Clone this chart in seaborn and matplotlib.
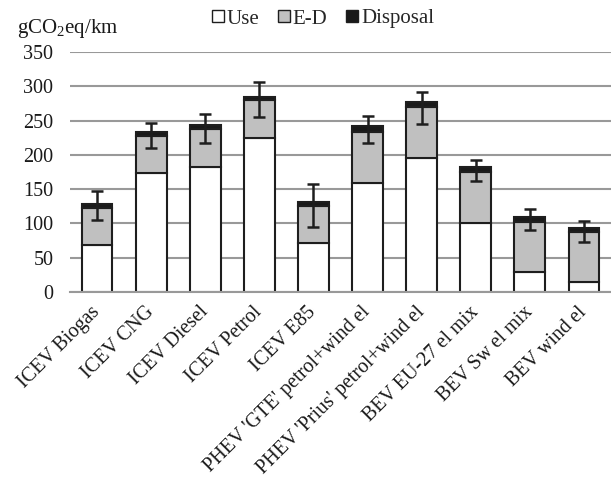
import pandas as pd
import matplotlib
matplotlib.use("Agg")
import matplotlib.pyplot as plt
from matplotlib.patches import Patch
import seaborn as sns

# values (gCO2eq/km)
vehicles = ["ICEV Biogas", "ICEV CNG", "ICEV Diesel", "ICEV Petrol", "ICEV E85",
            "PHEV 'GTE' petrol+wind el", "PHEV 'Prius' petrol+wind el",
            "BEV EU-27 el mix", "BEV Sw el mix", "BEV wind el"]
use = [68, 173, 183, 224, 71, 159, 195, 101, 29, 14]
ed = [54, 55, 54, 56, 54, 75, 75, 74, 73, 73]
disposal = [6, 5, 6, 5, 6, 8, 7, 8, 8, 7]
err_lo = [105, 210, 218, 255, 95, 218, 245, 162, 90, 73]
err_hi = [147, 247, 259, 306, 157, 257, 292, 192, 121, 104]

df = pd.DataFrame({"Vehicle": vehicles, "Use": use, "E-D": ed, "Disposal": disposal})
df["base2"] = df["Use"] + df["E-D"]

sns.set_style("white")
plt.rcParams["font.family"] = ["Liberation Serif", "DejaVu Serif"]
plt.rcParams["mathtext.fontset"] = "custom"
plt.rcParams["mathtext.rm"] = "Liberation Serif"

fig = plt.figure(figsize=(6.11, 4.84), dpi=100)
ax = fig.add_axes([70 / 611, 1 - 292 / 484, 541 / 611, 240 / 484])

edge = "#1e1e1e"
bw = 0.57
sns.barplot(data=df, x="Vehicle", y="Use", color="white", edgecolor=edge,
            linewidth=1.5, width=bw, ax=ax)
sns.barplot(data=df, x="Vehicle", y="E-D", bottom=df["Use"], color="#c0c0c0",
            edgecolor=edge, linewidth=1.5, width=bw, ax=ax)
sns.barplot(data=df, x="Vehicle", y="Disposal", bottom=df["base2"], color="#1a1a1a",
            edgecolor=edge, linewidth=1.5, width=bw, ax=ax)

mid = [(a + b) / 2 for a, b in zip(err_lo, err_hi)]
half = [(b - a) / 2 for a, b in zip(err_lo, err_hi)]
ax.errorbar(range(len(vehicles)), mid, yerr=half, fmt="none", ecolor=edge,
            elinewidth=1.8, capsize=4.5, capthick=1.8, zorder=5)

ax.set_ylim(0, 350)
ax.set_xlim(-0.5, 9.5)
ax.set_yticks(range(0, 351, 50))
ax.yaxis.grid(True, color="#999999", linewidth=1.5)
ax.set_axisbelow(True)
for s in ["top", "right", "left"]:
    ax.spines[s].set_visible(False)
ax.spines["bottom"].set_color("#999999")
ax.spines["bottom"].set_linewidth(1.5)
ax.tick_params(axis="both", length=0, labelsize=14.5, colors="#1a1a1a")
ax.tick_params(axis="y", pad=12)
ax.set_xlabel("")
ax.set_ylabel("")
ax.set_xticks(range(len(vehicles)))
ax.set_xticklabels(vehicles, rotation=45, ha="right", va="center",
                   rotation_mode="anchor")
ax.tick_params(axis="x", pad=12.5)

fig.text(17 / 611, 1 - 28 / 484, r"gCO$_2$eq/km", fontsize=15, va="center",
         color="#1a1a1a")

handles = [Patch(facecolor="white", edgecolor=edge, label="Use"),
           Patch(facecolor="#c0c0c0", edgecolor=edge, label="E-D"),
           Patch(facecolor="#1a1a1a", edgecolor=edge, label="Disposal")]
fig.legend(handles=handles, loc="center", bbox_to_anchor=(323 / 611, 1 - 19 / 484),
           ncol=3, frameon=False, fontsize=15, handlelength=0.55, handleheight=0.55,
           handletextpad=0.15, columnspacing=0.9)

fig.savefig("out.png", dpi=100)
